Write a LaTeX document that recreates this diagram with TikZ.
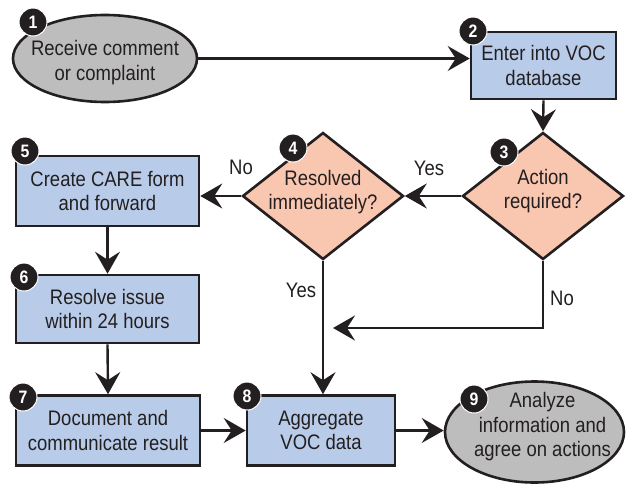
\documentclass[tikz,border=0pt]{standalone}
\usepackage{fontspec}
\setmainfont{Liberation Sans}[FakeStretch=0.88]
\usetikzlibrary{shapes.geometric,arrows.meta}
\definecolor{ink}{HTML}{231F20}
\definecolor{boxblue}{HTML}{B8CCE9}
\definecolor{decsalmon}{HTML}{F9C6B0}
\definecolor{termgray}{HTML}{BEBDBE}
\begin{document}
\begin{tikzpicture}[x=1pt,y=-1pt,
  txt/.style={font=\fontsize{21}{24.5}\selectfont, text=ink, align=center},
  procbox/.style={draw=ink, line width=2.6pt, fill=boxblue, rectangle, inner sep=0pt, txt},
  decision/.style={draw=ink, line width=2.6pt, fill=decsalmon, diamond, inner sep=0pt, minimum width=161pt, minimum height=127pt},
  terminal/.style={draw=ink, line width=2.6pt, fill=termgray, ellipse, inner sep=0pt},
  badge/.style={circle, fill=ink, draw=white, line width=1pt, minimum size=28pt, inner sep=0pt, text=white, font=\bfseries\fontsize{18}{18}\selectfont},
  conn/.style={draw=ink, line width=2.4pt, -{Stealth[length=22pt,width=25pt,inset=8pt]}},
  lbl/.style={txt}
]
\useasboundingbox (0,0) rectangle (629,487);
\fill[white] (0,0) rectangle (629,487);

% shapes
\node[terminal, minimum width=184pt, minimum height=87pt,
  label={[txt,yshift=-4pt]center:{Receive comment\\or complaint}}] (n1) at (105,58.5) {};
\node[procbox, minimum width=145pt, minimum height=67pt] (n2) at (543.5,65.5) {Enter into VOC\\database};
\node[decision, label={[txt,yshift=5pt]center:{Action\\required?}}] (n3) at (543,196) {};
\node[decision, label={[txt,yshift=4pt]center:{Resolved\\immediately?}}] (n4) at (323,196) {};
\node[procbox, minimum width=183pt, minimum height=70pt] (n5) at (107.5,191) {Create CARE form\\and forward};
\node[procbox, minimum width=183pt, minimum height=68pt] (n6) at (107.5,309) {Resolve issue\\within 24 hours};
\node[procbox, minimum width=184pt, minimum height=70pt] (n7) at (108,430.5) {Document and\\communicate result};
\node[procbox, minimum width=148pt, minimum height=70pt] (n8) at (321,430.5) {Aggregate\\VOC data};
\node[terminal, minimum width=179pt, minimum height=101pt,
  label={[txt,yshift=5pt,xshift=8pt]center:{Analyze\\information and\\agree on actions}}] (n9) at (534.5,432) {};

% connectors
\coordinate (c1) at (333,328);
\draw[conn] (n1.east) -- (n1.east -| n2.west);
\draw[conn] (n2.south) -- (n3.north);
\draw[conn] (n3.west) -- (n4.east);
\draw[conn] (n4.west) -- (n4.west -| n5.east);
\draw[conn] (n5.south) -- (n6.north);
\draw[conn] (n6.south) -- (n7.north);
\draw[conn] (n4.south) -- (n4.south |- n8.north);
\draw[conn] (n3.south) |- (c1);
\draw[conn] (n7.east) -- (n8.west);
\draw[conn] (n8.east) -- (n8.east -| n9.west);

% branch labels
\node[lbl] (y1) at (429,168) {Yes};
\node[lbl] (no1) at (241,167) {No};
\node[lbl] (y2) at (301,290) {Yes};
\node[lbl] (no2) at (562,298) {No};

% badges
\node[badge] (b1) at (33,22) {1};
\node[badge] (b2) at (473,31) {2};
\node[badge] (b3) at (504,152) {3};
\node[badge] (b4) at (293,148) {4};
\node[badge] (b5) at (25,151) {5};
\node[badge] (b6) at (24,277) {6};
\node[badge] (b7) at (23,397) {7};
\node[badge] (b8) at (247,396) {8};
\node[badge] (b9) at (474,399) {9};
\end{tikzpicture}
\end{document}
